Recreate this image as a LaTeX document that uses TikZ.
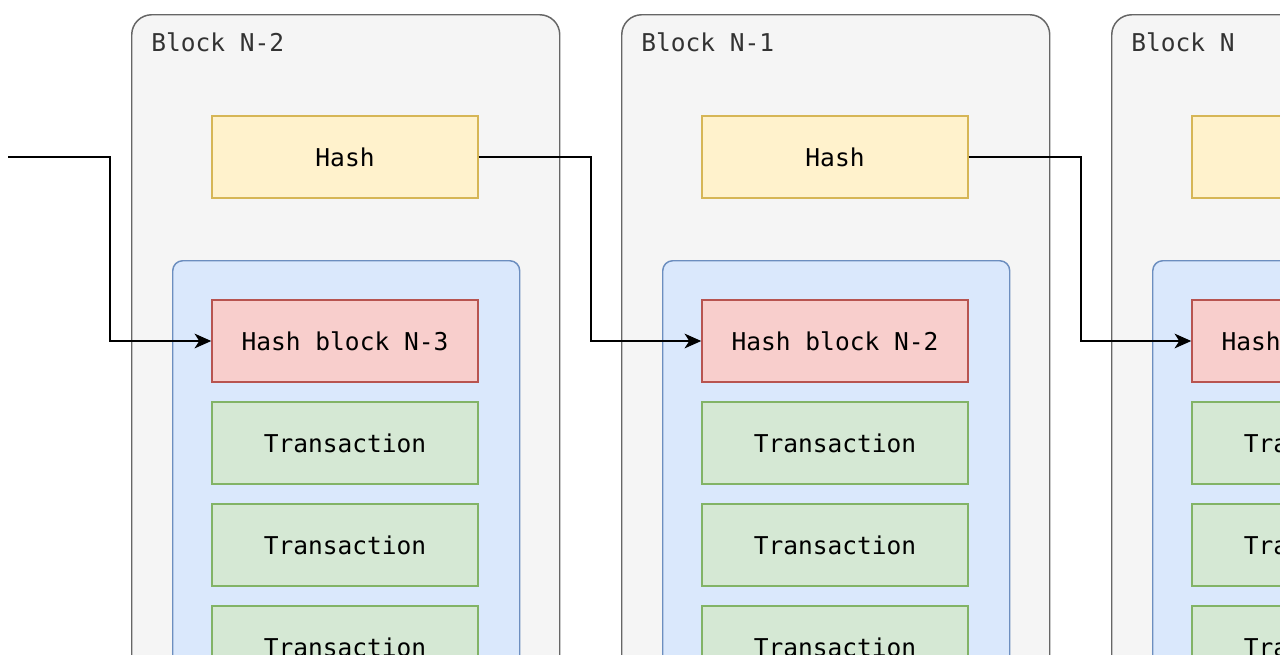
\documentclass[tikz,border=0pt]{standalone}
\usepackage{fontspec}
\setmonofont{DejaVu Sans Mono}
\usetikzlibrary{arrows.meta}
\definecolor{blkfill}{HTML}{F5F5F5}
\definecolor{blkline}{HTML}{666666}
\definecolor{txtgray}{HTML}{333333}
\definecolor{bluefill}{HTML}{DAE8FC}
\definecolor{blueline}{HTML}{6C8EBF}
\definecolor{yelfill}{HTML}{FFF2CC}
\definecolor{yelline}{HTML}{D6B656}
\definecolor{redfill}{HTML}{F8CECC}
\definecolor{redline}{HTML}{B85450}
\definecolor{grnfill}{HTML}{D5E8D4}
\definecolor{grnline}{HTML}{82B366}
\begin{document}
\begin{tikzpicture}[x=0.75pt,y=-0.75pt,
  font=\ttfamily\fontsize{18.4}{22}\selectfont,
  blk/.style={draw=blkline, fill=blkfill, line width=1.1pt, rounded corners=15pt,
    anchor=north west, inner sep=0pt, minimum width=321pt, minimum height=589.5pt},
  blklabel/.style={anchor=west, inner sep=0pt, text=txtgray},
  cont/.style={draw=blueline, fill=bluefill, line width=1.1pt, rounded corners=7.5pt,
    anchor=north west, inner sep=0pt, minimum width=260.25pt, minimum height=450pt},
  item/.style={line width=1.1pt, minimum width=199.5pt, minimum height=61.5pt, inner sep=0pt, text=black},
  hashbox/.style={item, draw=yelline, fill=yelfill},
  prevbox/.style={item, draw=redline, fill=redfill},
  txbox/.style={item, draw=grnline, fill=grnfill},
  link/.style={draw=black, line width=1.5pt, -{Stealth[length=12.5pt, width=11pt, inset=3.5pt]}}
]
\useasboundingbox (0,0) rectangle (1280,654);
\clip (0,0) rectangle (1280,654);
\fill[white] (0,0) rectangle (1280,654);
\foreach \i/\lab/\prev in {0/N-2/N-3,1/N-1/N-2,2/N/N-1} {
  \pgfmathsetmacro\ox{490*\i}
  \node[blk] (b\i) at (\ox+131,14) {};
  \node[blklabel] (l\i) at (\ox+151,42) {Block \lab};
  \node[cont] (c\i) at (\ox+172,260) {};
  \node[hashbox] (h\i) at (\ox+345,157) {Hash};
  \node[prevbox] (r\i) at (\ox+345,341) {Hash block \prev};
  \node[txbox] (ta\i) at (\ox+345,443) {Transaction};
  \node[txbox] (tb\i) at (\ox+345,545) {Transaction};
  \node[txbox] (tc\i) at (\ox+345,647) {Transaction};
}
\coordinate (start) at (8,157);
\draw[link] (start) -- ++(102,0) |- (r0.west);
\draw[link] (h0.east) -- ++(112,0) |- (r1.west);
\draw[link] (h1.east) -- ++(112,0) |- (r2.west);
\end{tikzpicture}
\end{document}
